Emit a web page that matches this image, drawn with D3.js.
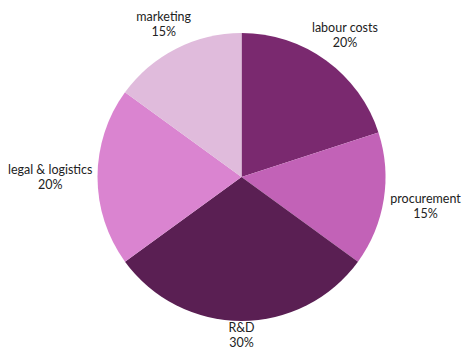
<!DOCTYPE html>
<html>
<head>
<meta charset="utf-8">
<script src="https://cdn.jsdelivr.net/npm/d3@7"></script>
<style>
  body { margin: 0; background: #fff; }
  text { font-family: Lato, sans-serif; font-size: 12.5px; fill: #222; }
</style>
</head>
<body>
<div id="chart"></div>
<script>
// data, clockwise from 12 o'clock
const categories = ["labour costs", "procurement", "R&D", "legal & logistics", "marketing"];
const shares = [20, 15, 30, 20, 15];
const colours = ["#7a296f", "#c262b7", "#5a1f53", "#da84d0", "#e0bbdc"];

const w = 462, h = 350;
const cx = 241.5, cy = 177;
const radius = 144;
const labelRadius = 163;

const svg = d3.select("#chart")
    .append("svg")
    .attr("width", w)
    .attr("height", h);

const pie = d3.pie().sort(null).value(d => d.v);
const arc = d3.arc().innerRadius(0).outerRadius(radius);

const data = categories.map((c, i) => ({ c: c, v: shares[i], col: colours[i] }));
const arcs = pie(data);

const g = svg.append("g").attr("transform", "translate(" + cx + "," + cy + ")");

g.selectAll("path.slice")
    .data(arcs)
    .enter()
    .append("path")
    .attr("class", "slice")
    .attr("d", arc)
    .attr("fill", d => d.data.col);

const labels = g.selectAll("g.label")
    .data(arcs)
    .enter()
    .append("g")
    .attr("class", "label");

labels.append("text")
    .attr("text-anchor", "middle")
    .attr("y", -3)
    .text(d => d.data.c);

labels.append("text")
    .attr("text-anchor", "middle")
    .attr("y", 12)
    .text(d => d.data.v + "%");

// push labels out by part of their half width so wide ones clear the pie
labels.attr("transform", function (d) {
    const a = (d.startAngle + d.endAngle) / 2;
    const halfW = d3.select(this).select("text").node().getComputedTextLength() / 2;
    const r = labelRadius + 0.67 * halfW * Math.abs(Math.sin(a));
    const x = r * Math.sin(a);
    let y = -r * Math.cos(a);
    // keep the bottom label inside the picture
    if (y + cy > h - 15) y = h - 15 - cy;
    return "translate(" + x + "," + y + ")";
});
</script>
</body>
</html>
